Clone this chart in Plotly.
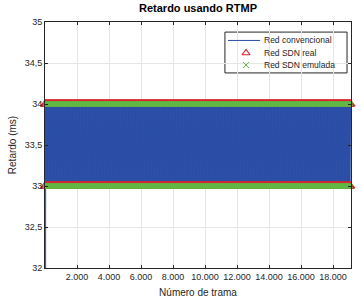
import plotly.graph_objects as go

# ---- data ----
title = "Retardo usando RTMP"
x_label = "Número de trama"
y_label = "Retardo (ms)"
series_names = ["Red convencional", "Red SDN real", "Red SDN emulada"]
series_colors = ["#2A4DA6", "#D8262E", "#62B846"]

n_frames = 19100
# Red convencional: first frame low, then alternates 33 / 34 ms
conv_first = 0.0
conv_levels = [33.0, 34.0]
# SDN real / emulada: alternate 33 / 34 ms
sdn_real_levels = [33.0, 34.0]
sdn_emul_levels = [33.0, 34.0]

x_ticks = [2000, 4000, 6000, 8000, 10000, 12000, 14000, 16000, 18000]
y_ticks = [32, 32.5, 33, 33.5, 34, 34.5, 35]

# sampled frames
conv_x = [1] + list(range(2, n_frames + 1, 8))
conv_y = [conv_first] + [conv_levels[i % 2] for i in range(len(conv_x) - 1)]

sdn_x = list(range(1, n_frames + 1, 16))
real_y = [sdn_real_levels[i % 2] for i in range(len(sdn_x))]
emul_y = [sdn_emul_levels[i % 2] for i in range(len(sdn_x))]

FONT = "Liberation Sans, Arial"
TXT = "#262626"

fig = go.Figure()
fig.add_trace(go.Scatter(x=conv_x, y=conv_y, mode="lines", name=series_names[0],
                         line=dict(color=series_colors[0], width=1)))
fig.add_trace(go.Scatter(x=sdn_x, y=real_y, mode="markers", name=series_names[1],
                         marker=dict(symbol="triangle-up-open", size=8, color=series_colors[1],
                                     line=dict(width=1.2, color=series_colors[1])),
                         cliponaxis=False))
fig.add_trace(go.Scatter(x=sdn_x, y=emul_y, mode="markers", name=series_names[2],
                         marker=dict(symbol="x-thin-open", size=4, color=series_colors[2],
                                     line=dict(width=2, color=series_colors[2])),
                         cliponaxis=False))

# ---- custom compact legend (paper-like overlay axes) ----
lg_x0, lg_x1, lg_y0, lg_y1 = 0.588, 0.987, 0.793, 0.959
row_y = [0.925, 0.874, 0.825]
sym_x = 0.657
txt_x = 0.709
fig.add_shape(type="rect", xref="paper", yref="paper", x0=lg_x0, x1=lg_x1, y0=lg_y0, y1=lg_y1,
              fillcolor="white", line=dict(color=TXT, width=1), layer="between")
fig.add_shape(type="line", xref="paper", yref="paper", x0=0.598, x1=0.703, y0=row_y[0], y1=row_y[0],
              line=dict(color=series_colors[0], width=1), layer="above")
fig.add_trace(go.Scatter(x=[sym_x], y=[row_y[1]], xaxis="x2", yaxis="y2", mode="markers",
                         marker=dict(symbol="triangle-up-open", size=7, color=series_colors[1],
                                     line=dict(width=1.2, color=series_colors[1])),
                         showlegend=False, hoverinfo="skip"))
fig.add_trace(go.Scatter(x=[sym_x], y=[row_y[2]], xaxis="x2", yaxis="y2", mode="markers",
                         marker=dict(symbol="x-thin-open", size=6, color=series_colors[2],
                                     line=dict(width=1, color=series_colors[2])),
                         showlegend=False, hoverinfo="skip"))
for name, yy in zip(series_names, row_y):
    fig.add_annotation(xref="paper", yref="paper", x=txt_x, y=yy, text=name, showarrow=False,
                       xanchor="left", yanchor="middle",
                       font=dict(family=FONT, size=8.5, color=TXT))

axis_common = dict(showline=True, linecolor=TXT, linewidth=1, mirror="ticks",
                   ticks="inside", ticklen=3, tickcolor=TXT,
                   showgrid=True, gridcolor="#E6E6E6", gridwidth=1, zeroline=False,
                   tickfont=dict(family=FONT, size=9, color=TXT))

fig.update_layout(
    width=361, height=307,
    margin=dict(l=45, r=10, t=22, b=39),
    paper_bgcolor="white", plot_bgcolor="white",
    separators=",.",
    showlegend=False,
    title=dict(text="<b>" + title + "</b>", xref="paper", x=0.5, xanchor="center",
               yref="container", y=0.985, yanchor="top",
               font=dict(family=FONT, size=11, color="black")),
    xaxis=dict(range=[0, 19125], tickvals=x_ticks, tickformat=",.0f",
               title=dict(text=x_label, standoff=8,
                          font=dict(family=FONT, size=10, color=TXT)),
               **axis_common),
    yaxis=dict(range=[32, 35], tickvals=y_ticks,
               title=dict(text=y_label, standoff=6,
                          font=dict(family=FONT, size=10, color=TXT)),
               **axis_common),
    xaxis2=dict(range=[0, 1], overlaying="x", visible=False, fixedrange=True),
    yaxis2=dict(range=[0, 1], overlaying="y", visible=False, fixedrange=True),
)

fig.write_html("out.html", post_script="document.body.style.margin='0';",
               config={"displayModeBar": False})
